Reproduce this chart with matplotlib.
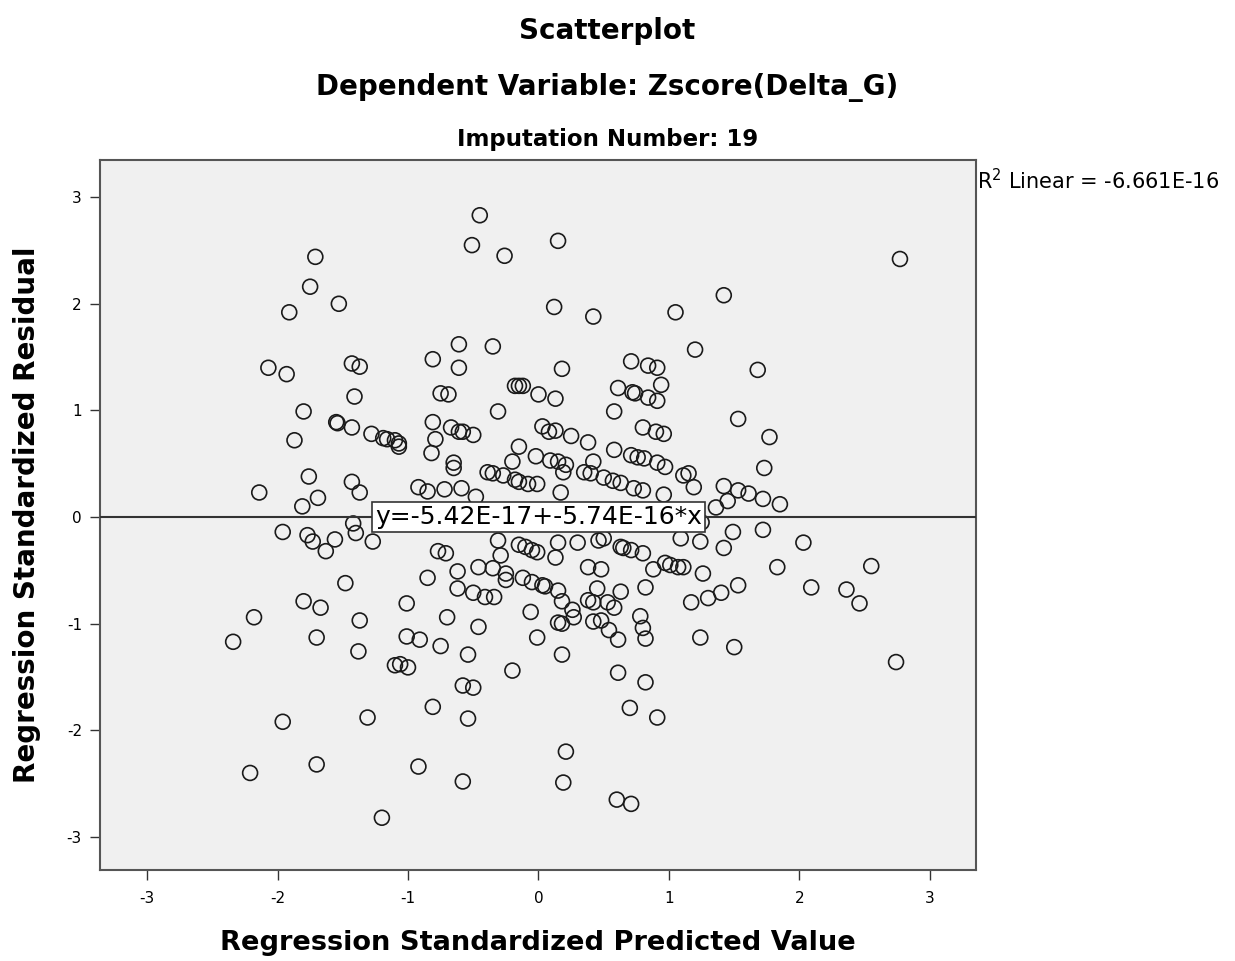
import matplotlib
matplotlib.use("Agg")
import matplotlib.pyplot as plt
import numpy as np

# standardized predicted values (x) and standardized residuals (y)
pred = [
    -0.45, -0.51, -0.26, 0.15, -1.71, 2.77, -1.75, 1.42, -1.53, -1.91, 0.12, 0.42, 1.05,
    1.20, -0.61, -0.35, -2.07, -1.93, -1.43, -1.37, -0.81, -0.61, 0.18, 0.71, 0.84, 0.91,
    1.68, 0.94, 0.61, 0.72, 0.74, -0.75, -0.69, -0.18, -0.15, -0.12, 0.00, 0.13, -1.41,
    0.84, 0.91, -1.80, -0.31, 0.58, 1.53, 1.77, -1.87, -1.55, -1.54, -1.43, -1.28, -1.19,
    -1.16, -1.07, -1.07, -0.81, -0.79, -0.82, -0.67, -0.61, -0.58, -0.50, 0.03, 0.08, 0.13,
    0.25, 0.38, 0.58, 0.80, 0.90, 0.96, -0.15, -0.02, 0.71, 0.76, 0.81, 0.91, 0.97, -0.20,
    0.09, 0.15, 0.21, 0.19, 0.42, 0.35, 0.40, -0.65, -0.65, -0.39, -0.35, -0.27, -0.18,
    -0.15, -0.08, -0.01, 0.50, 0.57, 0.63, 0.73, 0.80, 0.96, 1.11, -0.92, -0.85, -0.72,
    -0.59, -0.48, 0.17, -1.10, 1.73, 1.15, 1.19, 1.42, 1.53, 1.61, 1.72, 1.85, 1.45, 1.36,
    -2.14, -1.76, -1.69, -1.81, -1.43, -1.37,
    -1.96, -1.77, -1.73, -1.63, -1.56, -1.40, -1.42, -1.27, -1.48, -1.80, -1.67, -2.18,
    -2.34, -1.37, -1.70, -1.38, -1.10, -1.96, -1.31, -2.21, -1.70, -1.20,
    -0.31, -0.77, -0.71, -0.15, -0.10, -0.05, -0.01, 0.15, 0.30, 0.46, 0.50, 0.63, 0.65,
    0.71, 0.80, 1.09, -0.29, 0.13, -0.46, -0.35, -0.25, -0.25, -0.62, -0.85, -0.12, -0.05,
    0.03, 0.05, 0.15, 0.38, 0.48, 0.88, 0.97, 1.01, 1.07, 0.82, 0.45, 0.63, -0.62, -0.50,
    -0.41, -0.34, 0.18, 0.38, 0.42, 0.53, 0.58, 0.26, 0.27, 0.15, 0.18, -0.06, -1.01,
    -0.70, -0.46, 0.42, 0.48, 0.54, 0.61, 0.78, 0.80, 0.82, -1.01, -0.91, -0.75, -0.54,
    -0.01, 0.18, -1.06, -1.00, -0.20, 0.61, 0.82, -0.58, -0.50,
    1.24, 1.49, 1.72, 2.03, 1.42, 1.11, 1.26, 1.83, 2.55, 1.17, 1.30, 1.40, 1.53, 2.09,
    2.36, 2.46, 1.24, 1.50, 2.74,
    -0.81, -0.54, 0.70, 0.91, 0.21, -0.92, -0.58, 0.19, 0.60, 0.71,
    -1.20, -0.90, -0.55, -0.20, 0.30, 0.60, 0.95, 1.25,
]
resid = [
    2.83, 2.55, 2.45, 2.59, 2.44, 2.42, 2.16, 2.08, 2.00, 1.92, 1.97, 1.88, 1.92,
    1.57, 1.62, 1.60, 1.40, 1.34, 1.44, 1.41, 1.48, 1.40, 1.39, 1.46, 1.42, 1.40,
    1.38, 1.24, 1.21, 1.17, 1.16, 1.16, 1.15, 1.23, 1.23, 1.23, 1.15, 1.11, 1.13,
    1.12, 1.09, 0.99, 0.99, 0.99, 0.92, 0.75, 0.72, 0.89, 0.88, 0.84, 0.78, 0.74,
    0.73, 0.69, 0.66, 0.89, 0.73, 0.60, 0.84, 0.80, 0.80, 0.77, 0.85, 0.80, 0.81,
    0.76, 0.70, 0.63, 0.84, 0.80, 0.78, 0.66, 0.57, 0.58, 0.56, 0.55, 0.51, 0.47, 0.52,
    0.53, 0.52, 0.49, 0.42, 0.52, 0.42, 0.41, 0.51, 0.46, 0.42, 0.41, 0.39, 0.35,
    0.33, 0.31, 0.31, 0.37, 0.34, 0.32, 0.27, 0.25, 0.21, 0.39, 0.28, 0.24, 0.26,
    0.27, 0.19, 0.23, 0.72, 0.46, 0.41, 0.28, 0.29, 0.25, 0.22, 0.17, 0.12, 0.15, 0.09,
    0.23, 0.38, 0.18, 0.10, 0.33, 0.23,
    -0.14, -0.17, -0.23, -0.32, -0.21, -0.15, -0.06, -0.23, -0.62, -0.79, -0.85, -0.94,
    -1.17, -0.97, -1.13, -1.26, -1.39, -1.92, -1.88, -2.40, -2.32, -2.82,
    -0.22, -0.32, -0.34, -0.26, -0.28, -0.31, -0.33, -0.24, -0.24, -0.22, -0.20, -0.28, -0.29,
    -0.31, -0.34, -0.20, -0.36, -0.38, -0.47, -0.48, -0.53, -0.59, -0.51, -0.57, -0.57, -0.61,
    -0.64, -0.65, -0.69, -0.47, -0.49, -0.49, -0.43, -0.45, -0.47, -0.66, -0.67, -0.70, -0.67, -0.71,
    -0.75, -0.75, -0.79, -0.78, -0.80, -0.80, -0.85, -0.87, -0.94, -0.99, -1.00, -0.89, -0.81,
    -0.94, -1.03, -0.98, -0.97, -1.06, -1.15, -0.93, -1.04, -1.14, -1.12, -1.15, -1.21, -1.29,
    -1.13, -1.29, -1.38, -1.41, -1.44, -1.46, -1.55, -1.58, -1.60,
    -0.23, -0.14, -0.12, -0.24, -0.29, -0.47, -0.53, -0.47, -0.46, -0.80, -0.76, -0.71, -0.64, -0.66,
    -0.68, -0.81, -1.13, -1.22, -1.36,
    -1.78, -1.89, -1.79, -1.88, -2.20, -2.34, -2.48, -2.49, -2.65, -2.69,
    0.05, -0.05, 0.04, -0.03, 0.05, -0.04, 0.03, -0.05,
]

# fit line coefficients shown on the chart
intercept = -5.42e-17
slope = -5.74e-16
fit_label = "y=-5.42E-17+-5.74E-16*x"
r2_label = "R$^2$ Linear = -6.661E-16"
ticks = [-3, -2, -1, 0, 1, 2, 3]

fig = plt.figure(figsize=(12.35, 9.61), dpi=100)
ax = fig.add_axes([0.081, 0.0947, 0.709, 0.739])
ax.set_facecolor("#f0f0f0")

ax.scatter(pred, resid, s=115, facecolors="none", edgecolors="#1a1a1a", linewidths=1.2, zorder=3)

xl = np.array([-3.36, 3.35])
ax.plot(xl, intercept + slope * xl, color="#333333", lw=1.5, zorder=4)
ax.text(0, 0, fit_label, fontsize=18, ha="center", va="center", zorder=5,
        bbox=dict(boxstyle="square,pad=0.12", fc="white", ec="#333333", lw=1.2))

ax.set_xlim(-3.36, 3.35)
ax.set_ylim(-3.31, 3.35)
ax.set_xticks(ticks)
ax.set_yticks(ticks)
ax.set_xticklabels([str(t) for t in ticks])
ax.set_yticklabels([str(t) for t in ticks])
ax.tick_params(direction="out", length=7, width=1, colors="#333333", labelsize=11, labelcolor="black")
ax.tick_params(axis="x", pad=8)
ax.tick_params(axis="y", pad=6)
for s in ax.spines.values():
    s.set_color("#555555")
    s.set_linewidth(1.5)

ax.set_xlabel("Regression Standardized Predicted Value", fontsize=19.6, fontweight="bold")
ax.xaxis.label.set_va("center")
ax.xaxis.set_label_coords(0.5, -0.103)
ax.set_ylabel("Regression Standardized Residual", fontsize=20, fontweight="bold")
ax.yaxis.label.set_va("center")
ax.yaxis.set_label_coords(-0.083, 0.5)

fig.text(0.492, 0.968, "Scatterplot", fontsize=20, fontweight="bold", ha="center", va="center")
fig.text(0.492, 0.909, "Dependent Variable: Zscore(Delta_G)", fontsize=20, fontweight="bold",
         ha="center", va="center")
fig.text(0.492, 0.855, "Imputation Number: 19", fontsize=16.5, fontweight="bold", ha="center", va="center")
fig.text(0.791, 0.812, r2_label, fontsize=15, ha="left", va="center")

fig.savefig("out.png", dpi=100)
